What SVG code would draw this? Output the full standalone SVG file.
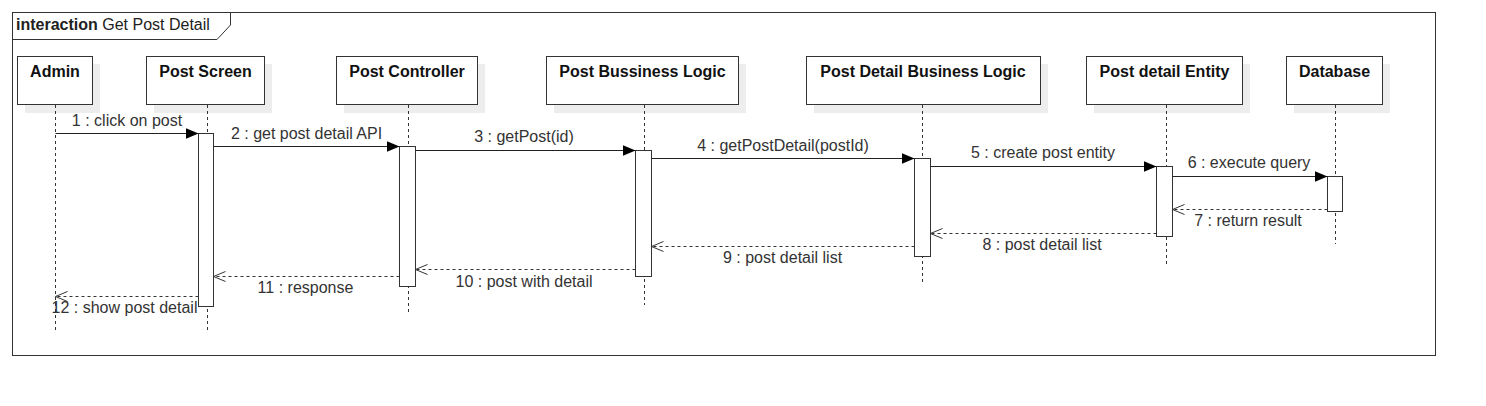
<svg xmlns="http://www.w3.org/2000/svg" width="1486" height="406" viewBox="0 0 1486 406">
<defs>
<marker id="filled" markerUnits="userSpaceOnUse" markerWidth="14" markerHeight="12" refX="13" refY="5.5" orient="auto">
<path d="M0,0 L13,5.5 L0,11 Z" fill="#000" stroke="none"/>
</marker>
<marker id="open" markerUnits="userSpaceOnUse" markerWidth="15" markerHeight="14" refX="13" refY="6" orient="auto">
<path d="M1,1 L13,6 L1,11" fill="none" stroke="#333" stroke-width="1"/>
</marker>
</defs>
<style>
.frame{fill:none;stroke:#333;stroke-width:1}
.box{fill:#fff;stroke:#333;stroke-width:1}
.shadow{fill:#ededed;stroke:none}
.name{font-family:"Liberation Sans",Arial,sans-serif;font-size:16px;font-weight:bold;fill:#111;text-anchor:middle}
.life{stroke:#333;stroke-width:1;stroke-dasharray:3 3;fill:none}
.act{fill:#fff;stroke:#333;stroke-width:1}
.msg{stroke:#222;stroke-width:1;fill:none;marker-end:url(#filled)}
.ret{stroke:#333;stroke-width:1;fill:none;stroke-dasharray:3 3;marker-end:url(#open)}
.lbl{font-family:"Liberation Sans",Arial,sans-serif;font-size:16px;fill:#333;text-anchor:middle}
.title{font-family:"Liberation Sans",Arial,sans-serif;font-size:16px;fill:#222}
</style>
<rect width="1486" height="406" fill="#fff"/>
<g id="frame">
<rect class="frame" x="12.5" y="12.5" width="1423" height="343"/>
<path class="frame" d="M12.5,39.5 L217,39.5 L230.5,25 L230.5,12.5"/>
<text class="title" x="16" y="30"><tspan font-weight="bold">interaction</tspan> Get Post Detail</text>
</g>
<g id="node-admin">
<rect class="shadow" x="25" y="64" width="75" height="49"/>
<rect class="box" x="17.5" y="56.5" width="75" height="48"/>
<text class="name" x="55" y="77">Admin</text>
<line class="life" x1="55.5" y1="105" x2="55.5" y2="333"/>
</g>
<g id="node-post-screen">
<rect class="shadow" x="154" y="64" width="118" height="49"/>
<rect class="box" x="146.5" y="56.5" width="118" height="48"/>
<text class="name" x="205.5" y="77">Post Screen</text>
<line class="life" x1="207.5" y1="105" x2="207.5" y2="333"/>
<rect class="act" x="198.5" y="133.5" width="15" height="173"/>
</g>
<g id="node-post-controller">
<rect class="shadow" x="344" y="64" width="141" height="49"/>
<rect class="box" x="336.5" y="56.5" width="141" height="48"/>
<text class="name" x="407" y="77">Post Controller</text>
<line class="life" x1="408.5" y1="105" x2="408.5" y2="312"/>
<rect class="act" x="399.5" y="146.5" width="16" height="140"/>
</g>
<g id="node-post-business-logic">
<rect class="shadow" x="554" y="64" width="192" height="49"/>
<rect class="box" x="546.5" y="56.5" width="192" height="48"/>
<text class="name" x="642.5" y="77">Post Bussiness Logic</text>
<line class="life" x1="644.5" y1="105" x2="644.5" y2="305"/>
<rect class="act" x="635.5" y="150.5" width="16" height="126"/>
</g>
<g id="node-post-detail-business-logic">
<rect class="shadow" x="814" y="64" width="234" height="49"/>
<rect class="box" x="806.5" y="56.5" width="234" height="48"/>
<text class="name" x="923" y="77">Post Detail Business Logic</text>
<line class="life" x1="922.5" y1="105" x2="922.5" y2="282"/>
<rect class="act" x="914.5" y="158.5" width="16" height="98"/>
</g>
<g id="node-post-detail-entity">
<rect class="shadow" x="1094" y="64" width="156" height="49"/>
<rect class="box" x="1086.5" y="56.5" width="156" height="48"/>
<text class="name" x="1164.5" y="77">Post detail Entity</text>
<line class="life" x1="1166.5" y1="105" x2="1166.5" y2="267"/>
<rect class="act" x="1156.5" y="166.5" width="16" height="70"/>
</g>
<g id="node-database">
<rect class="shadow" x="1294" y="64" width="96" height="49"/>
<rect class="box" x="1286.5" y="56.5" width="96" height="48"/>
<text class="name" x="1334.5" y="77">Database</text>
<line class="life" x1="1335.5" y1="105" x2="1335.5" y2="244"/>
<rect class="act" x="1327.5" y="176.5" width="15" height="35"/>
</g>
<g id="connectors">
<path class="msg" d="M55.5,133.5 L198.5,133.5"/>
<text class="lbl" x="127" y="126">1 : click on post</text>
<path class="msg" d="M213.5,146.5 L399.5,146.5"/>
<text class="lbl" x="306.5" y="139">2 : get post detail API</text>
<path class="msg" d="M415.5,150.5 L635.5,150.5"/>
<text class="lbl" x="524" y="142">3 : getPost(id)</text>
<path class="msg" d="M651.5,158.5 L914.5,158.5"/>
<text class="lbl" x="783" y="151">4 : getPostDetail(postId)</text>
<path class="msg" d="M930.5,166.5 L1156.5,166.5"/>
<text class="lbl" x="1043" y="158">5 : create post entity</text>
<path class="msg" d="M1172.5,176.5 L1327.5,176.5"/>
<text class="lbl" x="1249" y="168">6 : execute query</text>
<path class="ret" d="M1327.5,209.5 L1172.5,209.5"/>
<text class="lbl" x="1248" y="226">7 : return result</text>
<path class="ret" d="M1156.5,233.5 L930.5,233.5"/>
<text class="lbl" x="1042" y="250">8 : post detail list</text>
<path class="ret" d="M914.5,246.5 L651.5,246.5"/>
<text class="lbl" x="782.5" y="263">9 : post detail list</text>
<path class="ret" d="M635.5,269.5 L415.5,269.5"/>
<text class="lbl" x="524" y="287">10 : post with detail</text>
<path class="ret" d="M399.5,276.5 L213.5,276.5"/>
<text class="lbl" x="305.5" y="293">11 : response</text>
<path class="ret" d="M198.5,296.5 L55.5,296.5"/>
<text class="lbl" x="124.5" y="313">12 : show post detail</text>
</g>
</svg>
